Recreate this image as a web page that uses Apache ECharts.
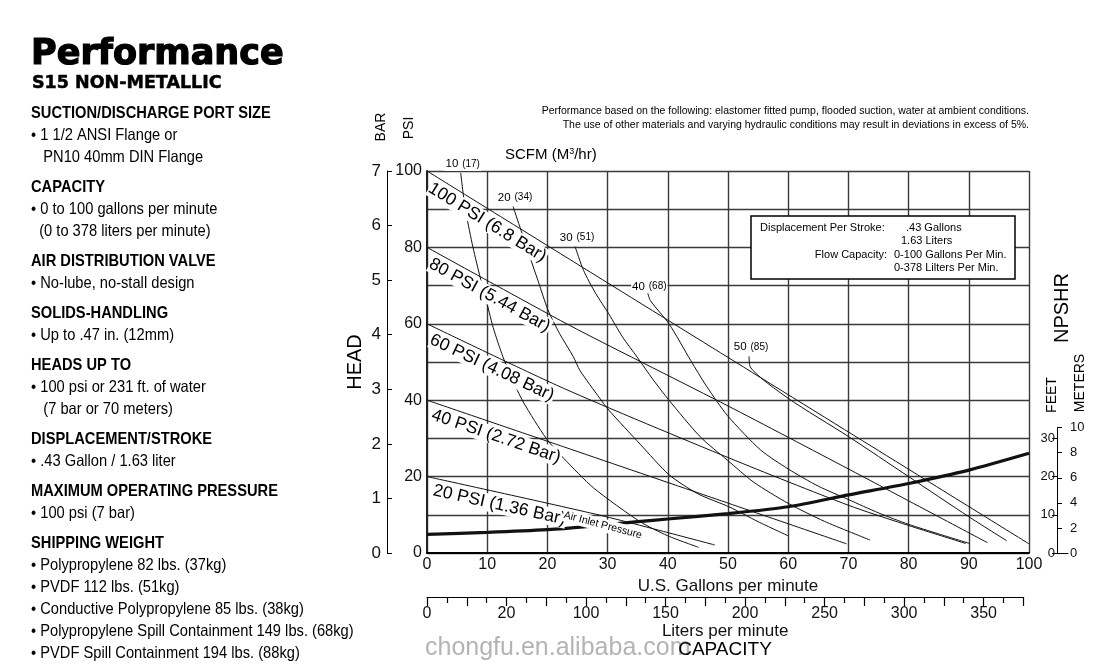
<!DOCTYPE html>
<html><head><meta charset="utf-8">
<script src="https://cdn.jsdelivr.net/npm/echarts@6/dist/echarts.min.js"></script>
<style>html,body{margin:0;padding:0;background:#fff}#c{width:1115px;height:670px}</style>
</head><body><div id="c"></div>
<script>
// ---------- DATA ----------
// x = U.S. gallons per minute, y = head in PSI
const psi100 = [[0,100],[25,75.6],[50,51.2],[75,26.8],[100,2.4]];
const psi80  = [[0,80],[12.7,69],[25,58.5],[50,38.5],[70,22],[93.1,2.7]];
const psi60  = [[0,60],[22.7,43.1],[50.3,24.8],[70,12.5],[80,7.2],[89.5,2.5]];
const psi40  = [[0,40],[22.7,27.8],[45.3,15.6],[69.7,2.4]];
const psi20  = [[0,20],[28.7,9.9],[47.8,2.1]];
const scfm10 = [[5.6,99.5],[6.3,90.7],[7.5,81],[8.7,73],[9.7,67],[11,59],[12.6,51.4],[14.1,45.7],[16,39.5],[19.8,30],[22.7,24.8],[27.7,17],[35.4,8.2],[40,4.5],[45.1,1.5]];
const scfm20 = [[14.3,90.7],[16.6,79.8],[18.5,71],[20.1,63.6],[22,57.5],[24.3,51.4],[25.4,47.8],[28.7,40.5],[30.2,37.4],[35.4,28.5],[40.2,20.5],[45,15.5],[50.3,12],[55,8.2],[60,4.5]];
const scfm30 = [[24.6,80.2],[26,74],[28,68],[30.2,62.6],[32.5,56.5],[34.9,51.3],[37.5,45.5],[40.2,40],[45.4,30.4],[49.9,24.3],[54.3,18.5],[60,13],[66,8.3],[73.6,3.4]];
const scfm40 = [[36.6,68.5],[37.1,66.1],[40.2,60],[43.8,50.4],[46.5,43.5],[49.9,36],[55.4,27],[60,22],[65,17.5],[70,14],[75,10.5],[80,7.5],[85,5],[90.1,2.5]];
const scfm50 = [[53.5,51.5],[53.7,48.7],[60,40.5],[70,30.5],[80,20],[90,9.5],[96.3,3.2]];
// NPSHR curve (feet, same scale as PSI grid)
const npshr = [[0,4.9],[10,5.4],[20,6.1],[26.5,6.9],[35,8.2],[40,8.9],[50,10.3],[60,12.1],[70,15.2],[80,18.2],[90,21.7],[100,26.1]];

const pressureNames = ['100 PSI (6.8 Bar)','80 PSI (5.44 Bar)','60 PSI (4.08 Bar)','40 PSI (2.72 Bar)','20 PSI (1.36 Bar)'];
const scfmLabels = [['10','(17)'],['20','(34)'],['30','(51)'],['40','(68)'],['50','(85)']];
const literLabelMap = {0:'0',50:'20',100:'100',150:'150',200:'200',250:'250',300:'300',350:'350'};

const leftLines = [
 ['SUCTION/DISCHARGE PORT SIZE',113,true],
 ['• 1 1/2 ANSI Flange or',135,false],
 ['   PN10 40mm DIN Flange',157,false],
 ['CAPACITY',187,true],
 ['• 0 to 100 gallons per minute',209,false],
 ['  (0 to 378 liters per minute)',231,false],
 ['AIR DISTRIBUTION VALVE',261,true],
 ['• No-lube, no-stall design',283,false],
 ['SOLIDS-HANDLING',313,true],
 ['• Up to .47 in. (12mm)',335,false],
 ['HEADS UP TO',365,true],
 ['• 100 psi or 231 ft. of water',387,false],
 ['   (7 bar or 70 meters)',409,false],
 ['DISPLACEMENT/STROKE',439,true],
 ['• .43 Gallon / 1.63 liter',461,false],
 ['MAXIMUM OPERATING PRESSURE',491,true],
 ['• 100 psi (7 bar)',513,false],
 ['SHIPPING WEIGHT',543,true],
 ['• Polypropylene 82 lbs. (37kg)',565,false],
 ['• PVDF 112 lbs. (51kg)',587,false],
 ['• Conductive Polypropylene 85 lbs. (38kg)',609,false],
 ['• Polypropylene Spill Containment 149 lbs. (68kg)',631,false],
 ['• PVDF Spill Containment 194 lbs. (88kg)',653,false]
];

// ---------- CHART ----------
const FONT = 'Liberation Sans, Arial, sans-serif';
const chart = echarts.init(document.getElementById('c'));
const GL = 427, GR = 86, GT = 171, GB = 117;
const plotH = 670 - GT - GB, pxPerPsi = plotH / 100;
const plotW = 1115 - GL - GR;

function lineSeries(data, w) {
  return {type:'line', data, xAxisIndex:0, yAxisIndex:0, showSymbol:false, silent:true,
    smooth:0.25, lineStyle:{color:'#111', width:w||1}, z:3};
}
const axisTxt = {color:'#111', fontFamily:FONT};

chart.setOption({
  animation:false,
  backgroundColor:'#fff',
  grid:[
    {left:GL, right:GR, top:GT, bottom:GB},
    {left:1057, width:11, top:GT + (100-30)*pxPerPsi, bottom:GB},
    {left:1057, width:11, top:GT + (100-32.808)*pxPerPsi, bottom:GB},
    {left:GL, width:plotW*375/378.54, top:560, bottom:73}
  ],
  xAxis:[
    {gridIndex:0, type:'value', min:0, max:100, interval:10,
     axisLine:{show:true, lineStyle:{color:'#000', width:2.2}}, axisTick:{show:false},
     axisLabel:Object.assign({fontSize:16, margin:4}, axisTxt),
     splitLine:{show:true, lineStyle:{color:'#3a3a3a', width:1.4}},
     name:'U.S. Gallons per minute', nameLocation:'middle', nameGap:22,
     nameTextStyle:Object.assign({fontSize:17}, axisTxt)},
    {gridIndex:1, type:'value', show:false},
    {gridIndex:2, type:'value', min:0, max:1, axisLine:{show:true, onZero:false, lineStyle:{color:'#000', width:1}},
     axisTick:{show:false}, axisLabel:{show:false}, splitLine:{show:false}},
    {gridIndex:3, type:'value', min:0, max:375, interval:25,
     axisLine:{show:true, lineStyle:{color:'#000', width:1.2}},
     axisTick:{show:true, length:9, lineStyle:{color:'#000', width:1.2}},
     minorTick:{show:true, splitNumber:2, length:6, lineStyle:{color:'#000', width:1.2}},
     axisLabel:Object.assign({fontSize:16, margin:9, showMaxLabel:false,
       formatter:v => (literLabelMap[v] !== undefined ? literLabelMap[v] : '')}, axisTxt),
     splitLine:{show:false},
     name:'Liters per minute', nameLocation:'middle', nameGap:26,
     nameTextStyle:Object.assign({fontSize:17}, axisTxt)}
  ],
  yAxis:[
    {gridIndex:0, type:'value', min:0, max:100, interval:10,
     axisLine:{show:true, lineStyle:{color:'#222', width:2}}, axisTick:{show:false},
     axisLabel:Object.assign({fontSize:16, margin:5, formatter:v => (v % 20 === 0 ? v : '')}, axisTxt),
     splitLine:{show:true, lineStyle:{color:'#3a3a3a', width:1.4}}},
    {gridIndex:0, type:'value', min:0, max:7, interval:1, position:'left', offset:40,
     axisLine:{show:true, lineStyle:{color:'#000', width:1}},
     axisTick:{show:true, inside:true, length:5, lineStyle:{color:'#000'}},
     axisLabel:Object.assign({fontSize:17, margin:6}, axisTxt), splitLine:{show:false}},
    {gridIndex:1, type:'value', min:0, max:30, interval:10, position:'left',
     axisLine:{show:true, lineStyle:{color:'#000', width:1}},
     axisTick:{show:true, length:5, lineStyle:{color:'#000'}},
     axisLabel:Object.assign({fontSize:13, margin:2}, axisTxt), splitLine:{show:false}},
    {gridIndex:2, type:'value', min:0, max:10, interval:2, position:'right',
     axisLine:{show:true, lineStyle:{color:'#000', width:1}},
     axisTick:{show:true, length:5, lineStyle:{color:'#000'}},
     axisLabel:Object.assign({fontSize:13, margin:2}, axisTxt), splitLine:{show:false}},
    {gridIndex:3, type:'value', show:false}
  ],
  series:[
    lineSeries(psi100), lineSeries(psi80), lineSeries(psi60), lineSeries(psi40), lineSeries(psi20),
    lineSeries(scfm10), lineSeries(scfm20), lineSeries(scfm30), lineSeries(scfm40), lineSeries(scfm50),
    lineSeries(npshr, 3.2)
  ]
});

// ---------- ANNOTATIONS ----------
function pix(g, p) { return chart.convertToPixel({xAxisIndex:0, yAxisIndex:0}, [g, p]); }
function interp(arr, g) {
  for (let i = 0; i < arr.length - 1; i++) {
    if (g >= arr[i][0] && g <= arr[i+1][0]) {
      const t = (g - arr[i][0]) / (arr[i+1][0] - arr[i][0]);
      return arr[i][1] + t * (arr[i+1][1] - arr[i][1]);
    }
  }
  return arr[arr.length-1][1];
}
const g = [];
function txt(text, x, y, opt) {
  opt = opt || {};
  g.push({type:'text', x, y, rotation:opt.rot||0, scaleX:opt.sx||1, z:100, silent:true,
    style:{text, fill:opt.color||'#000', font:(opt.weight||'normal')+' '+(opt.size||14)+'px '+(opt.family||FONT),
      textAlign:opt.align||'left', textVerticalAlign:opt.va||'middle',
      stroke:opt.stroke, lineWidth:opt.lw,
      backgroundColor:opt.bg, padding:opt.pad, rich:opt.rich}});
}

// Pressure labels along their lines
const pLines = [psi100, psi80, psi60, psi40, psi20];
pLines.forEach((arr, i) => {
  const g0 = 1.5;
  const A = pix(g0, interp(arr, g0)), B = pix(g0 + 15, interp(arr, g0 + 15));
  const ang = Math.atan2(B[1] - A[1], B[0] - A[0]);
  const d = 3;
  txt(pressureNames[i], A[0] - d*Math.sin(ang), A[1] + d*Math.cos(ang),
      {rot:-ang, size:17.5, va:'top', bg:'#fff', pad:[0,1,0,0]});
  if (i === 4) {
    const gA = 22.9;
    const C = pix(gA, interp(arr, gA)), D = pix(gA + 15, interp(arr, gA + 15));
    const a2 = Math.atan2(D[1] - C[1], D[0] - C[0]) + 0.02;
    txt('Air Inlet Pressure', C[0] - 1*Math.sin(a2), C[1] + 1*Math.cos(a2),
        {rot:-a2, size:10.5, va:'top', bg:'#fff', pad:[1,1,1,1]});
  }
});

// SCFM labels above curve starts
const sLines = [scfm10, scfm20, scfm30, scfm40, scfm50];
const scfmLabelLift = [9, 9, 9, 5, 9];
sLines.forEach((arr, i) => {
  const P = pix(arr[0][0], arr[0][1]);
  txt('{a|' + scfmLabels[i][0] + '} {b|' + scfmLabels[i][1] + '}', P[0] + 2, P[1] - scfmLabelLift[i],
      {align:'center', bg:'#fff', pad:[0,1,0,1],
       rich:{a:{fontSize:11.5, fontFamily:FONT, fill:'#000'}, b:{fontSize:10, fontFamily:FONT, fill:'#000'}}});
});

// Info box
g.push({type:'rect', z:99, silent:true, shape:{x:751, y:216, width:264, height:63},
        style:{fill:'#fff', stroke:'#000', lineWidth:1.5}});
txt('Displacement Per Stroke:', 760, 228, {size:11});
txt('.43 Gallons', 906, 228, {size:11});
txt('1.63 Liters', 901, 241, {size:11});
txt('Flow Capacity:', 887, 255, {size:11, align:'right'});
txt('0-100 Gallons Per Min.', 894, 255, {size:11});
txt('0-378 Lilters Per Min.', 894, 268, {size:11});

// Titles / notes
txt('Performance based on the following: elastomer fitted pump, flooded suction, water at ambient conditions.', 1029, 111, {size:10.5, align:'right'});
txt('The use of other materials and varying hydraulic conditions may result in deviations in excess of 5%.', 1029, 125, {size:10.5, align:'right'});
txt('{a|SCFM (M}{b|3}{a|/hr)}', 505, 155, {rich:{a:{fontSize:15, fontFamily:FONT, fill:'#000'}, b:{fontSize:9, fontFamily:FONT, fill:'#000', verticalAlign:'top', padding:[0,0,7,0]}}});
txt('BAR', 381, 127, {size:14, align:'center', rot:Math.PI/2});
txt('PSI', 409, 128, {size:14, align:'center', rot:Math.PI/2});
txt('HEAD', 355, 362, {size:20, align:'center', rot:Math.PI/2});
txt('NPSHR', 1062, 308, {size:20, align:'center', rot:Math.PI/2});
txt('FEET', 1052, 395, {size:14, align:'center', rot:Math.PI/2});
txt('METERS', 1080, 383, {size:14, align:'center', rot:Math.PI/2});
txt('chongfu.en.alibaba.com', 425, 648, {size:25, color:'#b4b4b4'});
txt('CAPACITY', 725, 650, {size:19, align:'center'});

// Left column
txt('Performance', 31, 55, {size:35, weight:'bold', family:'DejaVu Sans, sans-serif', stroke:'#000', lw:1.2});
txt('S15 NON-METALLIC', 32, 83, {size:17.5, weight:'bold', family:'DejaVu Sans, sans-serif', stroke:'#000', lw:0.5});
leftLines.forEach(l => txt(l[0], 31, l[1], {size:16.5, weight:l[2] ? 'bold' : 'normal', sx:0.89}));

chart.setOption({graphic:{elements:g}});
</script></body></html>
